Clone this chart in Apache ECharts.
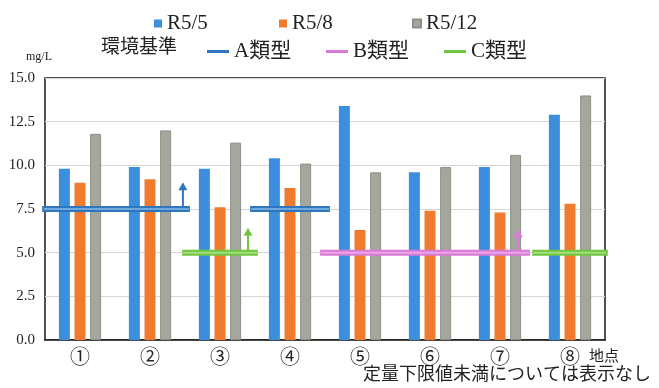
<!DOCTYPE html>
<html><head><meta charset="utf-8">
<script src="https://cdn.jsdelivr.net/npm/echarts@6/dist/echarts.min.js"></script>
<style>html,body{margin:0;padding:0;background:#fff}#c{width:659px;height:388px}</style>
</head><body><div id="c"></div>
<script>
// 測定地点と採水月ごとの値 (mg/L)
const sites = ['①', '②', '③', '④', '⑤', '⑥', '⑦', '⑧'];
const seriesNames = ['R5/5', 'R5/8', 'R5/12'];
const may = [9.8, 9.9, 9.8, 10.4, 13.4, 9.6, 9.9, 12.9];
const aug = [9.0, 9.2, 7.6, 8.7, 6.3, 7.4, 7.3, 7.8];
const dec = [11.8, 12.0, 11.3, 10.1, 9.6, 9.9, 10.6, 14.0];
const yTicks = [0, 2.5, 5, 7.5, 10, 12.5, 15];

// 環境基準の区間: [始点, 終点, 基準値] (地点の位置、0 = ①の左端、8 = ⑧の右端)
const standardA = [[-0.04, 2.07, 7.5], [2.93, 4.07, 7.5]];
const standardB = [[3.93, 6.93, 5.0]];
const standardC = [[1.96, 3.04, 5.0], [6.96, 8.04, 5.0]];
// 矢印 (以上を示す): [位置, 基準値, 先端]
const arrowsA = [[1.97, 7.5, 8.8]];
const arrowsB = [[6.76, 5.0, 6.1]];
const arrowsC = [[2.9, 5.0, 6.2]];

const SERIF = "'Liberation Serif', 'DejaVu Serif', 'Noto Sans CJK JP', serif";
const CJK = "'Liberation Serif', 'Noto Sans CJK JP', sans-serif";

const barColors = ['#3b8fde', '#f07b2f', '#a3a79c'];
const std = {
  'A類型': { outer: '#2f76bd', inner: '#6fa9de', segs: standardA, arrows: arrowsA },
  'B類型': { outer: '#d97ad6', inner: '#eaa6e6', segs: standardB, arrows: arrowsB },
  'C類型': { outer: '#70c640', inner: '#a6dd7c', segs: standardC, arrows: arrowsC }
};

const series = [];
[may, aug, dec].forEach((vals, i) => {
  series.push({
    type: 'bar', name: seriesNames[i], data: vals,
    xAxisIndex: 0, yAxisIndex: 0,
    barWidth: 11, barGap: '42%',
    itemStyle: { color: barColors[i], borderColor: i === 2 ? '#8d9088' : barColors[i], borderWidth: i === 2 ? 1 : 0 },
    z: 2
  });
});

Object.keys(std).forEach(name => {
  const s = std[name];
  s.segs.forEach(seg => {
    series.push({
      type: 'line', name: name, xAxisIndex: 1, yAxisIndex: 0,
      data: [[seg[0], seg[2]], [seg[1], seg[2]]],
      symbol: 'none', clip: false, silent: true, z: 5,
      itemStyle: { color: s.outer },
      lineStyle: { color: s.outer, width: 6, cap: 'butt' }
    });
    series.push({
      type: 'line', xAxisIndex: 1, yAxisIndex: 0,
      data: [[seg[0] + 0.01, seg[2]], [seg[1] - 0.01, seg[2]]],
      symbol: 'none', clip: false, silent: true, z: 6,
      lineStyle: { color: s.inner, width: 2 }
    });
  });
  s.arrows.forEach(a => {
    series.push({
      type: 'line', xAxisIndex: 1, yAxisIndex: 0,
      data: [{ value: [a[0], a[1]], symbol: 'none' }, { value: [a[0], a[2]] }],
      symbol: 'triangle', symbolSize: [9, 8], showSymbol: true, showAllSymbol: true,
      clip: false, silent: true, z: 4,
      itemStyle: { color: s.outer },
      lineStyle: { color: s.outer, width: 2 }
    });
  });
});

const legendText = { fontFamily: CJK, fontSize: 21, color: '#222' };
function barLegend(name, left) {
  return {
    data: [name], left: left, top: 8, icon: 'rect', itemWidth: 8, itemHeight: 8,
    itemGap: 0, itemStyle: {}, textStyle: legendText, selectedMode: false
  };
}
function stdLegend(name, left) {
  return {
    data: [name], left: left, top: 36, icon: 'rect', itemWidth: 22, itemHeight: 3,
    itemGap: 0, textStyle: legendText, selectedMode: false
  };
}

const chart = echarts.init(document.getElementById('c'), null, { renderer: 'canvas' });
chart.setOption({
  animation: false,
  backgroundColor: '#fff',
  grid: { left: 45, right: 54, top: 78, bottom: 48, show: true, borderColor: '#1a1a1a', borderWidth: 1.5, backgroundColor: 'transparent' },
  legend: [
    barLegend(seriesNames[0], 149),
    barLegend(seriesNames[1], 274),
    barLegend(seriesNames[2], 407),
    stdLegend('A類型', 202),
    stdLegend('B類型', 321),
    stdLegend('C類型', 439)
  ],
  graphic: [
    { type: 'text', left: 101, top: 36, style: { text: '環境基準', font: "19px 'Noto Sans CJK JP'", fill: '#222' } },
    { type: 'text', left: 26, top: 51, style: { text: 'mg/L', font: "12px " + SERIF, fill: '#222' } },
    { type: 'text', left: 589, top: 348, style: { text: '地点', font: "15px 'Noto Sans CJK JP'", fill: '#222' } },
    { type: 'text', right: 8, top: 364, style: { text: '定量下限値未満については表示なし', font: "18px 'Noto Sans CJK JP'", fill: '#222' } }
  ],
  xAxis: [
    {
      type: 'category', data: sites, boundaryGap: true,
      axisLine: { show: true, lineStyle: { color: '#1a1a1a', width: 1.5 } },
      axisTick: { show: false },
      axisLabel: { margin: 6, fontSize: 20, color: '#222', fontFamily: "'Noto Sans CJK JP', sans-serif" }
    },
    { type: 'value', min: 0, max: 8, show: false }
  ],
  yAxis: [{
    type: 'value', min: yTicks[0], max: yTicks[yTicks.length - 1], interval: 2.5,
    axisLine: { show: false }, axisTick: { show: false },
    axisLabel: { margin: 10, fontSize: 15, color: '#222', fontFamily: SERIF, formatter: v => v.toFixed(1) },
    splitLine: { show: true, lineStyle: { color: '#d6d6d6', width: 1 } }
  }],
  series: series
});
</script>
</body></html>
